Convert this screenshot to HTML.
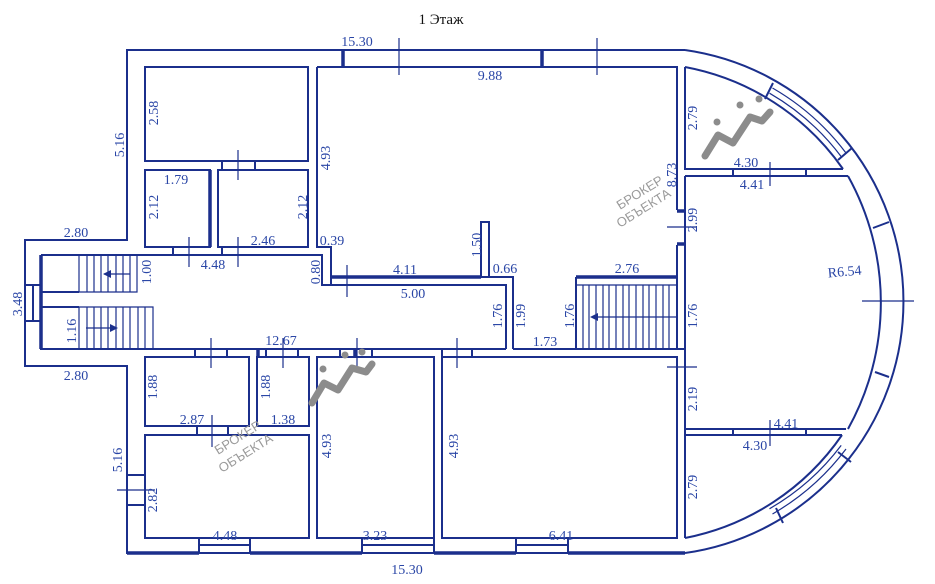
<!DOCTYPE html>
<html><head><meta charset="utf-8"><style>
html,body{margin:0;padding:0;background:#fff}
svg{display:block}
text{font-family:"Liberation Serif",serif;font-size:14px;fill:#2a46a6}
.t{fill:#111;font-size:15px}
.w{fill:none;stroke:#1b2f8c;stroke-width:2}
.k{fill:none;stroke:#1b2f8c;stroke-width:3.5}
.h{fill:none;stroke:#1b2f8c;stroke-width:1.2}
.wm{font-family:"Liberation Sans",sans-serif;font-size:13px;fill:#9a9a9a}
</style></head><body>
<svg width="935" height="584" viewBox="0 0 935 584" xmlns="http://www.w3.org/2000/svg">
<text class="t" x="441" y="24" text-anchor="middle">1 Этаж</text>

<!-- outer walls -->
<path class="w" d="M685,50 H127 V240 H25 V366 H127 V553 H685"/>
<path class="w" d="M685,50 A254,254 0 0 1 685,553"/>
<path class="w" d="M685,67 A248,248 0 0 1 843,169"/>
<path class="w" d="M848,176 A260,260 0 0 1 848,429"/>
<path class="w" d="M842,435 A248,248 0 0 1 685,538"/>
<!-- window arcs -->
<path class="h" d="M769.5,93.2 A240,240 0 0 1 841.2,156.6"/>
<path class="h" d="M772.5,88 A246,246 0 0 1 846,153"/>
<path class="h" d="M841.2,445.4 A240,240 0 0 1 769.5,508.8"/>
<path class="h" d="M846,449 A246,246 0 0 1 772.5,514"/>
<path class="w" d="M773,83 L765,99 M852,148 L838,160 M873,228 L889,222 M875,372 L889,377 M838,452 L851,462 M776,508 L783,523"/>

<!-- top wall marks -->
<path class="k" d="M343,50 V67 M542,50 V67"/>
<path class="h" d="M399,38 V75 M597,38 V75"/>

<!-- top-left rooms -->
<rect class="w" x="145" y="67" width="163" height="94"/>
<rect class="w" x="145" y="170" width="65" height="77"/>
<rect class="w" x="218" y="170" width="90" height="77"/>
<path class="k" d="M210,170 V247"/>
<path class="w" d="M222,161 V170 M255,161 V170"/>
<path class="h" d="M238,150 V180"/>

<!-- corridor top & left stair block -->
<path class="w" d="M41,255 H322 V285 H506 V349 M513,349 V277 H489 M41,255 V349 H506"/>
<path class="k" d="M41,255 V349"/>
<path class="w" d="M173,247 V255 M222,247 V255"/>
<path class="h" d="M189,237 V267 M238,237 V267"/>
<path class="w" d="M25,285 H41 M25,321 H41 M33,285 V321"/>
<path class="w" d="M41,292 H79 M41,307 H79"/>
<g class="h">
<path d="M79,255 V292 H137 V255 M87,255 V292 M94,255 V292 M101,255 V292 M108,255 V292 M116,255 V292 M123,255 V292 M130,255 V292"/>
<path d="M79,307 V349 M79,307 H153 V349 M87,307 V349 M94,307 V349 M101,307 V349 M108,307 V349 M116,307 V349 M123,307 V349 M130,307 V349 M138,307 V349 M145,307 V349"/>
<path d="M104,274 H130 M86,328 H112"/>
</g>
<path d="M103,274 l8,-4 v8z M118,328 l-8,-4 v8z" fill="#1b2f8c"/>

<!-- big room -->
<path class="w" d="M317,67 H677 V210 M677,245 V277 M317,67 V247 H331 V277"/>
<path class="w" d="M685,67 V169 H843 M685,176 H848 M685,176 V429 H846 M685,435 H842 M685,435 V538"/>
<path class="w" d="M733,169 V176 M806,169 V176 M733,429 V435 M806,429 V435"/>
<path class="k" d="M677,211 H685 M677,244 H685"/>
<path class="h" d="M667,227 H697 M770,162 V186 M770,420 V446"/>
<rect class="w" x="481" y="222" width="8" height="55"/>
<path class="k" d="M331,277 H481"/>
<path class="w" d="M331,277 V285"/>
<path class="h" d="M347,265 V297"/>
<!-- right stairs -->
<path class="k" d="M576,277 H677"/>
<path class="w" d="M576,277 V349 M677,277 V349 M513,349 H686"/>
<g class="h"><path d="M583,285 V349 M589,285 V349 M596,285 V349 M603,285 V349 M609,285 V349 M616,285 V349 M623,285 V349 M629,285 V349 M636,285 V349 M643,285 V349 M649,285 V349 M656,285 V349 M663,285 V349 M669,285 V349 M576,285 H677 M592,317 H677"/></g>
<path d="M590,317 l8,-4 v8z" fill="#1b2f8c"/>

<!-- bottom rooms -->
<rect class="w" x="145" y="357" width="104" height="69"/>
<rect class="w" x="257" y="357" width="52" height="69"/>
<rect class="w" x="145" y="435" width="164" height="103"/>
<rect class="w" x="317" y="357" width="117" height="181"/>
<rect class="w" x="442" y="357" width="235" height="181"/>
<path class="w" d="M677,357 V538 M685,357 V538"/>
<path class="w" d="M195,349 V357 M227,349 V357 M266,349 V357 M298,349 V357 M340,349 V357 M372,349 V357 M442,349 V357 M472,349 V357 M197,426 V435 M228,426 V435"/>
<path class="k" d="M258,349 V357 M355,349 V357"/>
<path class="h" d="M211,338 V368 M283,338 V368 M357,338 V368 M457,338 V368 M212,415 V447 M667,367 H697"/>
<path class="w" d="M127,475 H145 M127,505 H145"/>
<path class="h" d="M117,490 H155"/>
<!-- bottom wall windows -->
<path class="k" d="M127,553 H199 M250,553 H362 M434,553 H516 M568,553 H685"/>
<path class="w" d="M199,538 V553 M250,538 V553 M362,538 V553 M434,538 V553 M516,538 V553 M568,538 V553 M199,545 H250 M362,545 H434 M516,545 H568"/>
<path class="h" d="M862,301 H914"/>

<!-- labels -->
<text x="357" y="46" text-anchor="middle">15.30</text>
<text x="490" y="80" text-anchor="middle">9.88</text>
<text x="407" y="574" text-anchor="middle">15.30</text>
<text x="76" y="237" text-anchor="middle">2.80</text>
<text x="76" y="380" text-anchor="middle">2.80</text>
<text x="176" y="184" text-anchor="middle">1.79</text>
<text x="263" y="245" text-anchor="middle">2.46</text>
<text x="213" y="269" text-anchor="middle">4.48</text>
<text x="332" y="245" text-anchor="middle">0.39</text>
<text x="405" y="274" text-anchor="middle">4.11</text>
<text x="413" y="298" text-anchor="middle">5.00</text>
<text x="505" y="273" text-anchor="middle">0.66</text>
<text x="627" y="273" text-anchor="middle">2.76</text>
<text x="545" y="346" text-anchor="middle">1.73</text>
<text x="281" y="345" text-anchor="middle">12.67</text>
<text x="746" y="167" text-anchor="middle">4.30</text>
<text x="752" y="189" text-anchor="middle">4.41</text>
<text x="786" y="428" text-anchor="middle">4.41</text>
<text x="755" y="450" text-anchor="middle">4.30</text>
<text x="845" y="276" text-anchor="middle" transform="rotate(-5 845 276)">R6.54</text>
<text x="192" y="424" text-anchor="middle">2.87</text>
<text x="283" y="424" text-anchor="middle">1.38</text>
<text x="225" y="540" text-anchor="middle">4.48</text>
<text x="375" y="540" text-anchor="middle">3.23</text>
<text x="561" y="540" text-anchor="middle">6.41</text>
<g text-anchor="middle">
<text transform="translate(124,145) rotate(-90)">5.16</text>
<text transform="translate(158,113) rotate(-90)">2.58</text>
<text transform="translate(330,158) rotate(-90)">4.93</text>
<text transform="translate(158,207) rotate(-90)">2.12</text>
<text transform="translate(307,207) rotate(-90)">2.12</text>
<text transform="translate(151,272) rotate(-90)">1.00</text>
<text transform="translate(320,272) rotate(-90)">0.80</text>
<text transform="translate(481,245) rotate(-90)">1.50</text>
<text transform="translate(22,304) rotate(-90)">3.48</text>
<text transform="translate(76,331) rotate(-90)">1.16</text>
<text transform="translate(502,316) rotate(-90)">1.76</text>
<text transform="translate(525,316) rotate(-90)">1.99</text>
<text transform="translate(574,316) rotate(-90)">1.76</text>
<text transform="translate(697,316) rotate(-90)">1.76</text>
<text transform="translate(697,118) rotate(-90)">2.79</text>
<text transform="translate(676,175) rotate(-90)">8.73</text>
<text transform="translate(697,220) rotate(-90)">2.99</text>
<text transform="translate(697,399) rotate(-90)">2.19</text>
<text transform="translate(697,487) rotate(-90)">2.79</text>
<text transform="translate(157,387) rotate(-90)">1.88</text>
<text transform="translate(270,387) rotate(-90)">1.88</text>
<text transform="translate(331,446) rotate(-90)">4.93</text>
<text transform="translate(458,446) rotate(-90)">4.93</text>
<text transform="translate(122,460) rotate(-90)">5.16</text>
<text transform="translate(157,500) rotate(-90)">2.82</text>
</g>

<!-- watermarks -->
<g stroke="#8c8c8c" stroke-width="7" fill="none" stroke-linecap="round" stroke-linejoin="round">
<path d="M705,156 L718,135 L733,143 L750,117 L762,121 L770,112"/>
<path d="M312,403 L324,383 L338,390 L352,368 L366,372 L372,364"/>
</g>
<g fill="#8c8c8c">
<circle cx="717" cy="122" r="3.5"/><circle cx="740" cy="105" r="3.5"/><circle cx="759" cy="99" r="3.5"/>
<circle cx="323" cy="369" r="3.5"/><circle cx="345" cy="355" r="3.5"/><circle cx="362" cy="352" r="3.5"/>
</g>
<text class="wm" transform="translate(620,210) rotate(-32)">БРОКЕР</text>
<text class="wm" transform="translate(620,228) rotate(-32)">ОБЪЕКТА</text>
<text class="wm" transform="translate(218,455) rotate(-32)">БРОКЕР</text>
<text class="wm" transform="translate(222,473) rotate(-32)">ОБЪЕКТА</text>
</svg>
</body></html>
